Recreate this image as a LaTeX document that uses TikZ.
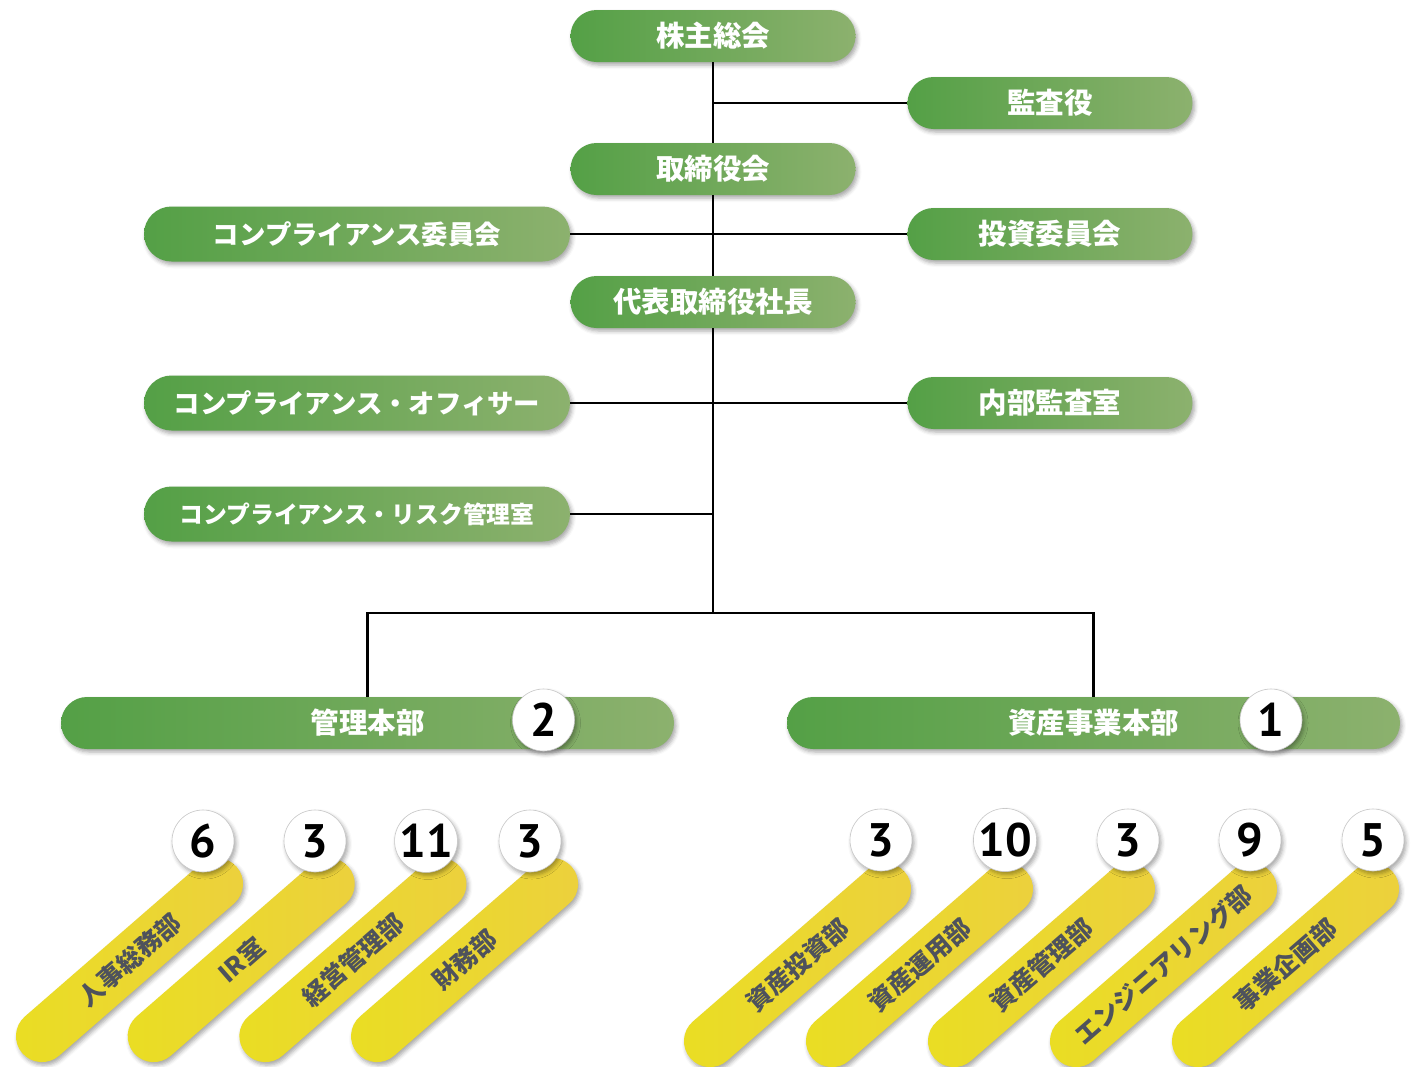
\documentclass[tikz,border=0pt]{standalone}
\usepackage{fontspec}
\setmainfont{Noto Sans CJK JP}
\newfontfamily\numfont{PT Sans}
\usetikzlibrary{shadows,shadows.blur}

\definecolor{gA}{RGB}{84,160,70}
\definecolor{gB}{RGB}{140,177,110}
\definecolor{yA}{RGB}{234,222,34}
\definecolor{yB}{RGB}{236,208,62}
\definecolor{ytext}{RGB}{78,82,92}

\tikzset{
  softshadow/.style={blur shadow={shadow xshift=2pt, shadow yshift=-3pt, shadow blur radius=4pt, shadow opacity=35}},
  pill/.style={rectangle, rounded corners=26pt, minimum width=285pt, minimum height=52pt,
    inner sep=0pt, left color=gA, right color=gB, text=white,
    font=\bfseries\fontsize{28.5}{30}\selectfont, softshadow},
  widepill/.style={pill, minimum width=426pt, minimum height=55pt, rounded corners=27.5pt},
  headpill/.style={pill, minimum width=613pt},
  bar/.style={rectangle, rounded corners=26pt, minimum width=284pt, minimum height=52pt,
    inner sep=0pt, rotate=41, left color=yA, right color=yB, text=ytext,
    font=\bfseries\fontsize{25}{26}\selectfont, softshadow},
  badge/.style={circle, minimum size=62pt, inner sep=0pt, fill=white, draw=black!22,
    line width=0.6pt, font=\numfont\bfseries\fontsize{47}{47}\selectfont, softshadow},
  link/.style={line width=2.6pt, draw=black},
}

\begin{document}
\begin{tikzpicture}[x=1pt,y=-1pt]
\useasboundingbox (0,0) rectangle (1420,1066);
\clip (0,0) rectangle (1420,1066);

% green pills
\node[pill] (kabu) at (713,36) {株主総会};
\node[pill] (kansa) at (1050,103) {監査役};
\node[pill] (tori) at (713,169) {取締役会};
\node[widepill] (comp) at (357,234) {\fontsize{26.4}{28}\selectfont コンプライアンス委員会};
\node[pill] (toushi) at (1050,234) {投資委員会};
\node[pill] (daihyo) at (713,302) {代表取締役社長};
\node[widepill] (officer) at (357,403) {\fontsize{26.4}{28}\selectfont コンプライアンス・オフィサー};
\node[pill] (naibu) at (1050,403) {内部監査室};
\node[widepill] (risk) at (357,514) {\fontsize{23.8}{26}\selectfont コンプライアンス・リスク管理室};
\node[headpill] (kanri) at (367.5,723) {管理本部};
\node[headpill] (shisan) at (1093.5,723) {資産事業本部};
\node[badge] (b2) at (543.5,720) {2};
\node[badge] (b1) at (1271,720) {1};

\coordinate (j) at (713,613);

% connectors
\draw[link] (kabu.south) -- (tori.north);
\draw[link] (tori.south) -- (daihyo.north);
\draw[link] (daihyo.south) -- (j);
\draw[link] (kansa.west) -- (kansa.west -| kabu.south);
\draw[link] (comp.east) -- (toushi.west);
\draw[link] (officer.east) -- (naibu.west);
\draw[link] (risk.east) -- (risk.east -| daihyo.south);
\draw[link] (kanri.north) |- (j) -| (shisan.north);

% yellow bars, left group
\node[bar] (l1) at (129.5,960) {人事総務部};
\node[bar] (l2) at (241.2,960) {IR室};
\node[bar] (l3) at (352.9,960) {経営管理部};
\node[bar] (l4) at (464.6,960) {財務部};
\node[badge] (nl1) at (203,841) {6};
\node[badge] (nl2) at (315,841) {3};
\node[badge] (nl3) at (426,841) {11};
\node[badge] (nl4) at (530,841) {3};

% yellow bars, right group
\node[bar] (r1) at (797.5,965) {資産投資部};
\node[bar] (r2) at (919.5,965) {資産運用部};
\node[bar] (r3) at (1041.5,965) {資産管理部};
\node[bar] (r4) at (1163.5,965) {エンジニアリング部};
\node[bar] (r5) at (1285.5,965) {事業企画部};
\node[badge] (nr1) at (881,840) {3};
\node[badge] (nr2) at (1005,840) {10};
\node[badge] (nr3) at (1128,840) {3};
\node[badge] (nr4) at (1250,840) {9};
\node[badge] (nr5) at (1373,840) {5};
\end{tikzpicture}
\end{document}
